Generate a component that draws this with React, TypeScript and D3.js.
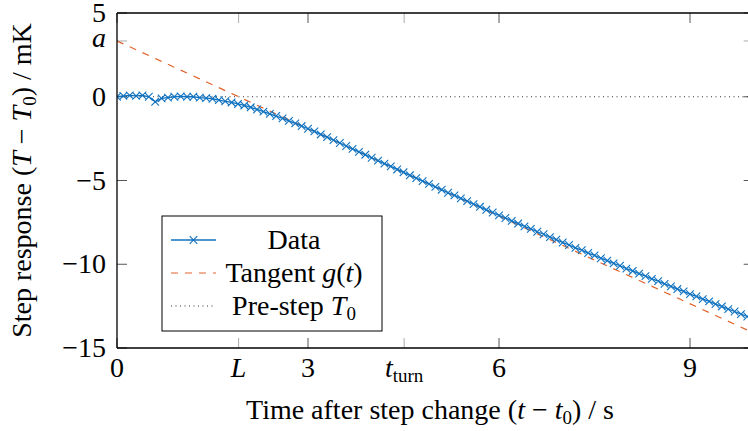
import React from "react";
import * as d3 from "d3";

const times = [
  0.0, 0.1, 0.2, 0.3, 0.4, 0.5, 0.6, 0.7, 0.8, 0.9,
  1.0, 1.1, 1.2, 1.3, 1.4, 1.5, 1.6, 1.7, 1.8, 1.9,
  2.0, 2.1, 2.2, 2.3, 2.4, 2.5, 2.6, 2.7, 2.8, 2.9,
  3.0, 3.1, 3.2, 3.3, 3.4, 3.5, 3.6, 3.7, 3.8, 3.9,
  4.0, 4.1, 4.2, 4.3, 4.4, 4.5, 4.6, 4.7, 4.8, 4.9,
  5.0, 5.1, 5.2, 5.3, 5.4, 5.5, 5.6, 5.7, 5.8, 5.9,
  6.0, 6.1, 6.2, 6.3, 6.4, 6.5, 6.6, 6.7, 6.8, 6.9,
  7.0, 7.1, 7.2, 7.3, 7.4, 7.5, 7.6, 7.7, 7.8, 7.9,
  8.0, 8.1, 8.2, 8.3, 8.4, 8.5, 8.6, 8.7, 8.8, 8.9,
  9.0, 9.1, 9.2, 9.3, 9.4, 9.5, 9.6, 9.7, 9.8, 9.9,
  10.0,
];

const response = [
  0.0, 0.05, 0.08, 0.05, 0.08, 0.0, -0.3, -0.1, -0.05, 0.0,
  0.02, 0.0, 0.0, -0.05, -0.08, -0.12, -0.2, -0.27, -0.34, -0.43,
  -0.52, -0.63, -0.76, -0.89, -1.02, -1.15, -1.29, -1.44, -1.59, -1.75,
  -1.91, -2.07, -2.25, -2.41, -2.59, -2.76, -2.94, -3.11, -3.29, -3.46,
  -3.64, -3.81, -3.99, -4.16, -4.34, -4.51, -4.69, -4.86, -5.04, -5.2,
  -5.38, -5.55, -5.73, -5.89, -6.07, -6.23, -6.41, -6.57, -6.75, -6.91,
  -7.08, -7.24, -7.41, -7.57, -7.74, -7.89, -8.06, -8.21, -8.38, -8.53,
  -8.7, -8.85, -9.02, -9.16, -9.33, -9.47, -9.64, -9.78, -9.95, -10.09,
  -10.26, -10.4, -10.56, -10.71, -10.87, -11.01, -11.17, -11.32, -11.48, -11.62,
  -11.78, -11.92, -12.08, -12.22, -12.38, -12.52, -12.68, -12.82, -12.98, -13.12,
  -13.27,
];

const tangentA = 3.33; // a: intercept of tangent
const deadTimeL = 1.91; // L: tangent crosses zero
const tTurn = 4.51; // inflection time
const preStep = 0;

const xTicks = [0, 3, 6, 9];
const yTicks = [5, 0, -5, -10, -15];
const xDomain = [0, 10];
const yDomain = [-15, 5];

const FONT = "Liberation Serif";
const BLUE = "#0f72c0";
const ORANGE = "#e0622a";

export default function App() {
  const W = 748;
  const H = 431;
  const left = 117;
  const right = 753.7;
  const top = 13;
  const bottom = 348;
  const x = d3.scaleLinear().domain(xDomain).range([left, right]);
  const y = d3.scaleLinear().domain(yDomain).range([bottom, top]);
  const tickLen = 10;
  const fs = 28;
  const sub = 19;
  const ts = { fontFamily: FONT };

  const pts = times.map((t, i) => [t, response[i]] as [number, number]);
  const dataLine = d3
    .line<[number, number]>()
    .x((d) => x(d[0]))
    .y((d) => y(d[1]))(pts);

  const slope = -tangentA / deadTimeL;
  const g = (t: number) => tangentA + slope * t;

  const cross = (cx: number, cy: number, r: number) =>
    `M${cx - r},${cy - r}L${cx + r},${cy + r}M${cx - r},${cy + r}L${cx + r},${cy - r}`;

  const markerPath = pts.map((d) => cross(x(d[0]), y(d[1]), 3.8)).join("");

  const lgX0 = 171;
  const lgX1 = 216;
  const lgTextX = 294;
  const rows = [240, 273, 306];

  return (
    <svg
      width={W}
      height={H}
      style={{ position: "absolute", left: 0, top: 0, background: "#fff" }}
    >
      <defs>
        <clipPath id="plotclip">
          <rect x={left} y={top} width={right - left} height={bottom - top} />
        </clipPath>
      </defs>

      <g stroke="#555" strokeWidth={1}>
        {xTicks.map((t) => (
          <g key={"xt" + t}>
            <line x1={x(t)} x2={x(t)} y1={bottom} y2={bottom - tickLen} />
            <line x1={x(t)} x2={x(t)} y1={top} y2={top + tickLen} />
          </g>
        ))}
        {yTicks.map((v) => (
          <g key={"yt" + v}>
            <line x1={left} x2={left + tickLen} y1={y(v)} y2={y(v)} />
            <line x1={right} x2={right - tickLen} y1={y(v)} y2={y(v)} />
          </g>
        ))}
      </g>
      <g stroke="#aaa" strokeWidth={1}>
        {[deadTimeL, tTurn].map((t) => (
          <g key={"ext" + t}>
            <line x1={x(t)} x2={x(t)} y1={bottom} y2={bottom - tickLen} />
            <line x1={x(t)} x2={x(t)} y1={top} y2={top + tickLen} />
          </g>
        ))}
        <line x1={left} x2={left + tickLen} y1={y(tangentA)} y2={y(tangentA)} />
        <line x1={right} x2={right - tickLen} y1={y(tangentA)} y2={y(tangentA)} />
      </g>

      <g clipPath="url(#plotclip)">
        <line
          x1={x(xDomain[0])}
          x2={x(xDomain[1])}
          y1={y(preStep)}
          y2={y(preStep)}
          stroke="#333"
          strokeWidth={1}
          strokeDasharray="1,3.5"
        />
        <line
          x1={x(xDomain[0])}
          x2={x(xDomain[1])}
          y1={y(g(xDomain[0]))}
          y2={y(g(xDomain[1]))}
          stroke={ORANGE}
          strokeWidth={1.2}
          strokeDasharray="7,7"
        />
        <path d={dataLine || ""} fill="none" stroke={BLUE} strokeWidth={1.3} />
        <path d={markerPath} fill="none" stroke={BLUE} strokeWidth={1.1} />
      </g>

      <g stroke="#000" strokeWidth={1.3} fill="none">
        <line x1={left} x2={right} y1={top} y2={top} />
        <line x1={left} x2={right} y1={bottom} y2={bottom} />
        <line x1={left} x2={left} y1={top} y2={bottom} />
        <line x1={right} x2={right} y1={top} y2={bottom} />
      </g>

      <g fontSize={fs} textAnchor="middle" fill="#000" style={ts}>
        {xTicks.map((t) => (
          <text key={"xl" + t} x={x(t)} y={377} style={ts}>
            {t}
          </text>
        ))}
        <text x={x(deadTimeL)} y={377} fontStyle="italic" style={ts}>
          L
        </text>
        <text x={x(tTurn)} y={377} style={ts}>
          <tspan fontStyle="italic">t</tspan>
          <tspan fontSize={sub} dy={5}>
            turn
          </tspan>
        </text>
      </g>

      <g fontSize={fs} textAnchor="end" fill="#000" style={ts}>
        {yTicks.map((v) => (
          <text key={"yl" + v} x={106} y={y(v) + 9} style={ts}>
            {v < 0 ? "\u2212" + Math.abs(v) : String(v)}
          </text>
        ))}
        <text x={106} y={y(tangentA) + 6} fontStyle="italic" style={ts}>
          a
        </text>
      </g>

      <text x={430} y={419} fontSize={fs} textAnchor="middle" style={ts}>
        Time after step change (<tspan fontStyle="italic">t</tspan> − <tspan fontStyle="italic">t</tspan>
        <tspan fontSize={sub} dy={5}>0</tspan>
        <tspan dy={-5}>) / s</tspan>
      </text>
      <text
        transform={`translate(31, ${(top + bottom) / 2}) rotate(-90)`}
        fontSize={fs}
        textAnchor="middle"
        style={ts}
      >
        Step response (<tspan fontStyle="italic">T</tspan> − <tspan fontStyle="italic">T</tspan>
        <tspan fontSize={sub} dy={5}>0</tspan>
        <tspan dy={-5}>) / mK</tspan>
      </text>

      <rect x={162} y={216} width={220} height={115} fill="#fff" stroke="#000" strokeWidth={1} />
      <line x1={lgX0} x2={lgX1} y1={rows[0]} y2={rows[0]} stroke={BLUE} strokeWidth={1.3} />
      <path d={cross((lgX0 + lgX1) / 2, rows[0], 3.8)} stroke={BLUE} strokeWidth={1.1} fill="none" />
      <line
        x1={lgX0}
        x2={lgX1}
        y1={rows[1]}
        y2={rows[1]}
        stroke={ORANGE}
        strokeWidth={1.2}
        strokeDasharray="7,7"
      />
      <line
        x1={lgX0}
        x2={lgX1}
        y1={rows[2]}
        y2={rows[2]}
        stroke="#333"
        strokeWidth={1}
        strokeDasharray="1,3.5"
      />
      <g fontSize={fs} textAnchor="middle" fill="#000" style={ts}>
        <text x={lgTextX} y={rows[0] + 9} style={ts}>Data</text>
        <text x={lgTextX} y={rows[1] + 9} style={ts}>
          Tangent <tspan fontStyle="italic">g</tspan>(<tspan fontStyle="italic">t</tspan>)
        </text>
        <text x={lgTextX} y={rows[2] + 9} style={ts}>
          Pre-step <tspan fontStyle="italic">T</tspan>
          <tspan fontSize={sub} dy={5}>0</tspan>
        </text>
      </g>
    </svg>
  );
}
